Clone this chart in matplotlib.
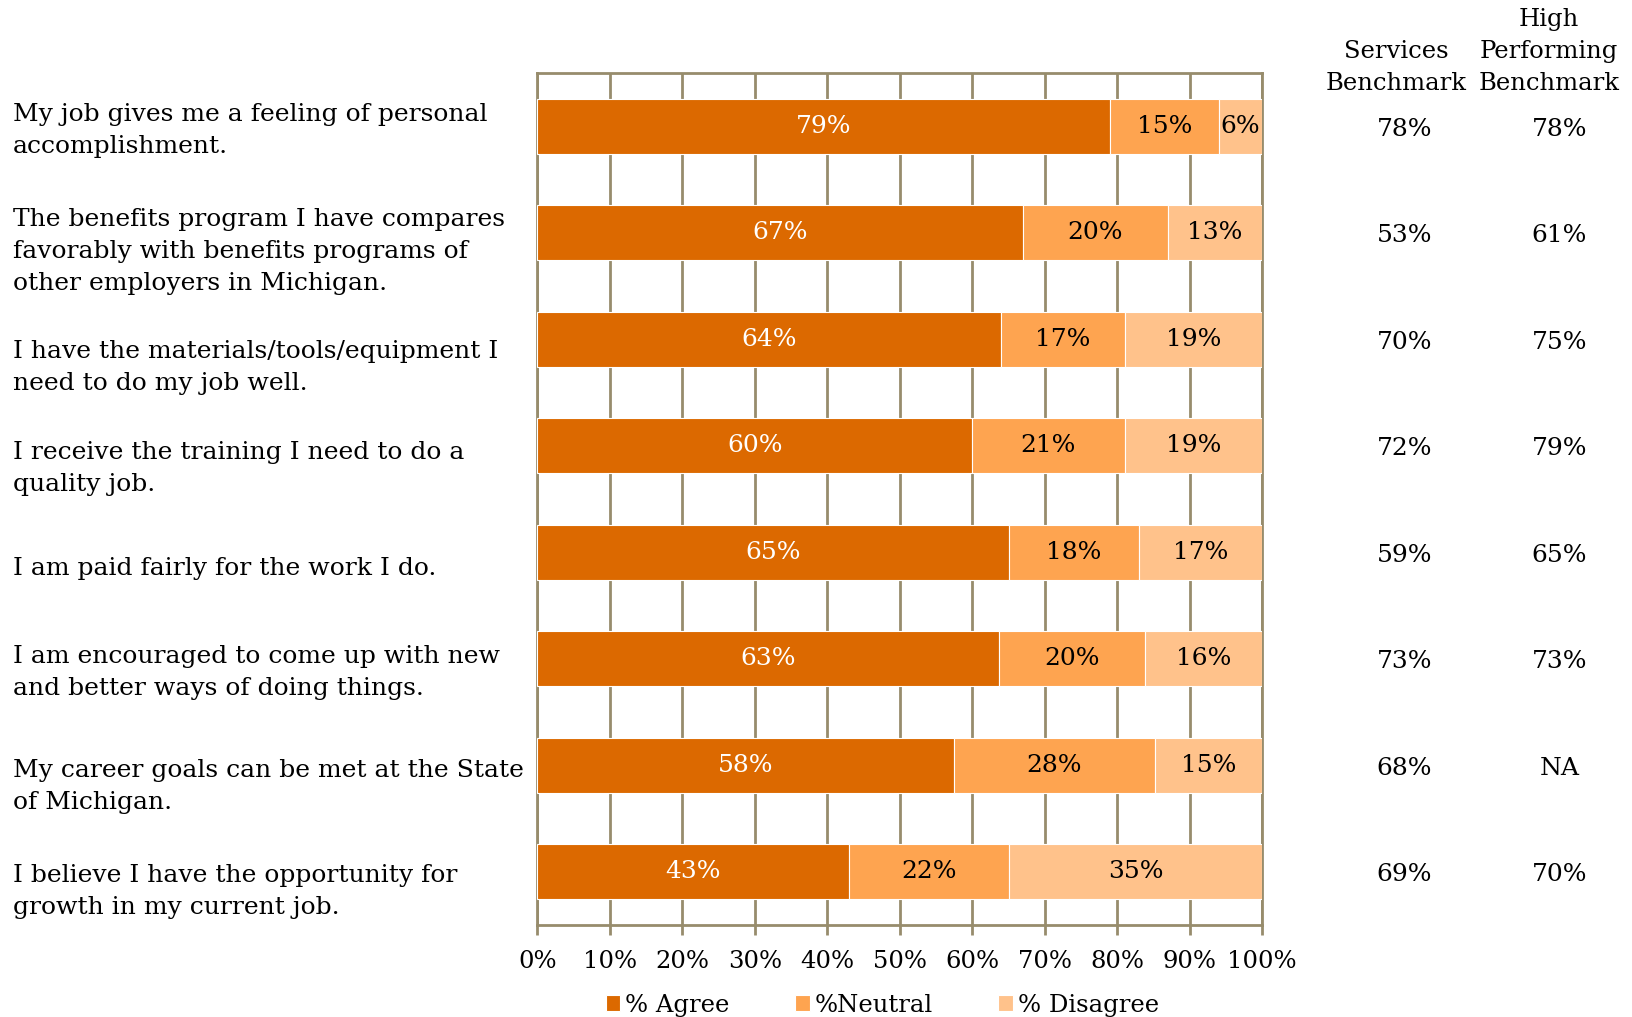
import numpy as np
import matplotlib
matplotlib.use("Agg")
import matplotlib.pyplot as plt
from matplotlib.transforms import blended_transform_factory

plt.rcParams['font.family'] = ['DejaVu Serif']

questions = [
    "My job gives me a feeling of personal\naccomplishment.",
    "The benefits program I have compares\nfavorably with benefits programs of\nother employers in Michigan.",
    "I have the materials/tools/equipment I\nneed to do my job well.",
    "I receive the training I need to do a\nquality job.",
    "I am paid fairly for the work I do.",
    "I am encouraged to come up with new\nand better ways of doing things.",
    "My career goals can be met at the State\nof Michigan.",
    "I believe I have the opportunity for\ngrowth in my current job.",
]
agree = [79, 67, 64, 60, 65, 63, 58, 43]
neutral = [15, 20, 17, 21, 18, 20, 28, 22]
disagree = [6, 13, 19, 19, 17, 16, 15, 35]
services_bench = ["78%", "53%", "70%", "72%", "59%", "73%", "68%", "69%"]
high_bench = ["78%", "61%", "75%", "79%", "65%", "73%", "NA", "70%"]

series_names = ["% Agree", "%Neutral", "% Disagree"]
colors = ["#DC6900", "#FEA450", "#FFC28B"]
text_colors = ["white", "black", "black"]

# question label offsets (pixels) so the wrapped text sits like a text box
label_shift = [-4, -19, -28, -23, -16, -14, -21, -20]

fig = plt.figure(figsize=(16.33, 10.17), dpi=100)
ax = fig.add_axes([0.329, 0.0905, 0.444, 0.8377])

vals = np.array([agree, neutral, disagree], dtype=float)
shares = vals / vals.sum(axis=0) * 100  # 100% stacked
y = np.arange(len(questions))
left = np.zeros(len(questions))
for k in range(3):
    ax.barh(y, shares[k], left=left, height=0.52, color=colors[k],
            edgecolor="white", linewidth=0.8, zorder=3, label=series_names[k])
    for i in range(len(questions)):
        ax.text(left[i] + shares[k][i] / 2, y[i], f"{int(vals[k][i])}%",
                ha="center", va="center", fontsize=18, color=text_colors[k], zorder=4)
    left += shares[k]

ax.set_xlim(0, 100)
ax.set_ylim(len(questions) - 0.5, -0.5)
ax.set_xticks(np.arange(0, 101, 10))
ax.set_xticklabels([f"{t}%" for t in range(0, 101, 10)], fontsize=17.5)
ax.set_yticks([])
grid_col = "#978C6C"
ax.grid(axis="x", color=grid_col, linewidth=2, zorder=0)
for s in ax.spines.values():
    s.set_color(grid_col)
    s.set_linewidth(2)
ax.tick_params(axis="x", length=7, width=2, color=grid_col, pad=11)

# question labels on the left
trans = blended_transform_factory(fig.transFigure, ax.transData)
for i, q in enumerate(questions):
    ax.annotate(q, xy=(0.0077, y[i]), xycoords=trans, xytext=(0, label_shift[i]),
                textcoords="offset pixels", ha="left", va="center",
                fontsize=18, linespacing=1.5)

# benchmark columns
for i in range(len(questions)):
    ax.annotate(services_bench[i], xy=(0.860, y[i]), xycoords=trans, xytext=(0, -3),
                textcoords="offset pixels", ha="center", va="center", fontsize=18)
    ax.annotate(high_bench[i], xy=(0.955, y[i]), xycoords=trans, xytext=(0, -3),
                textcoords="offset pixels", ha="center", va="center", fontsize=18)
fig.text(0.855, 0.9335, "Services\nBenchmark", ha="center", va="center",
         fontsize=17.5, linespacing=1.5)
fig.text(0.9486, 0.949, "High\nPerforming\nBenchmark", ha="center", va="center",
         fontsize=17.5, linespacing=1.5)

ax.legend(loc="center", bbox_to_anchor=(0.476, -0.094), ncol=3, frameon=False,
          fontsize=17.5, handlelength=0.6, handleheight=0.6, handletextpad=0.2,
          columnspacing=2.7, borderaxespad=0)

fig.savefig("out.png", dpi=100, facecolor="white")
